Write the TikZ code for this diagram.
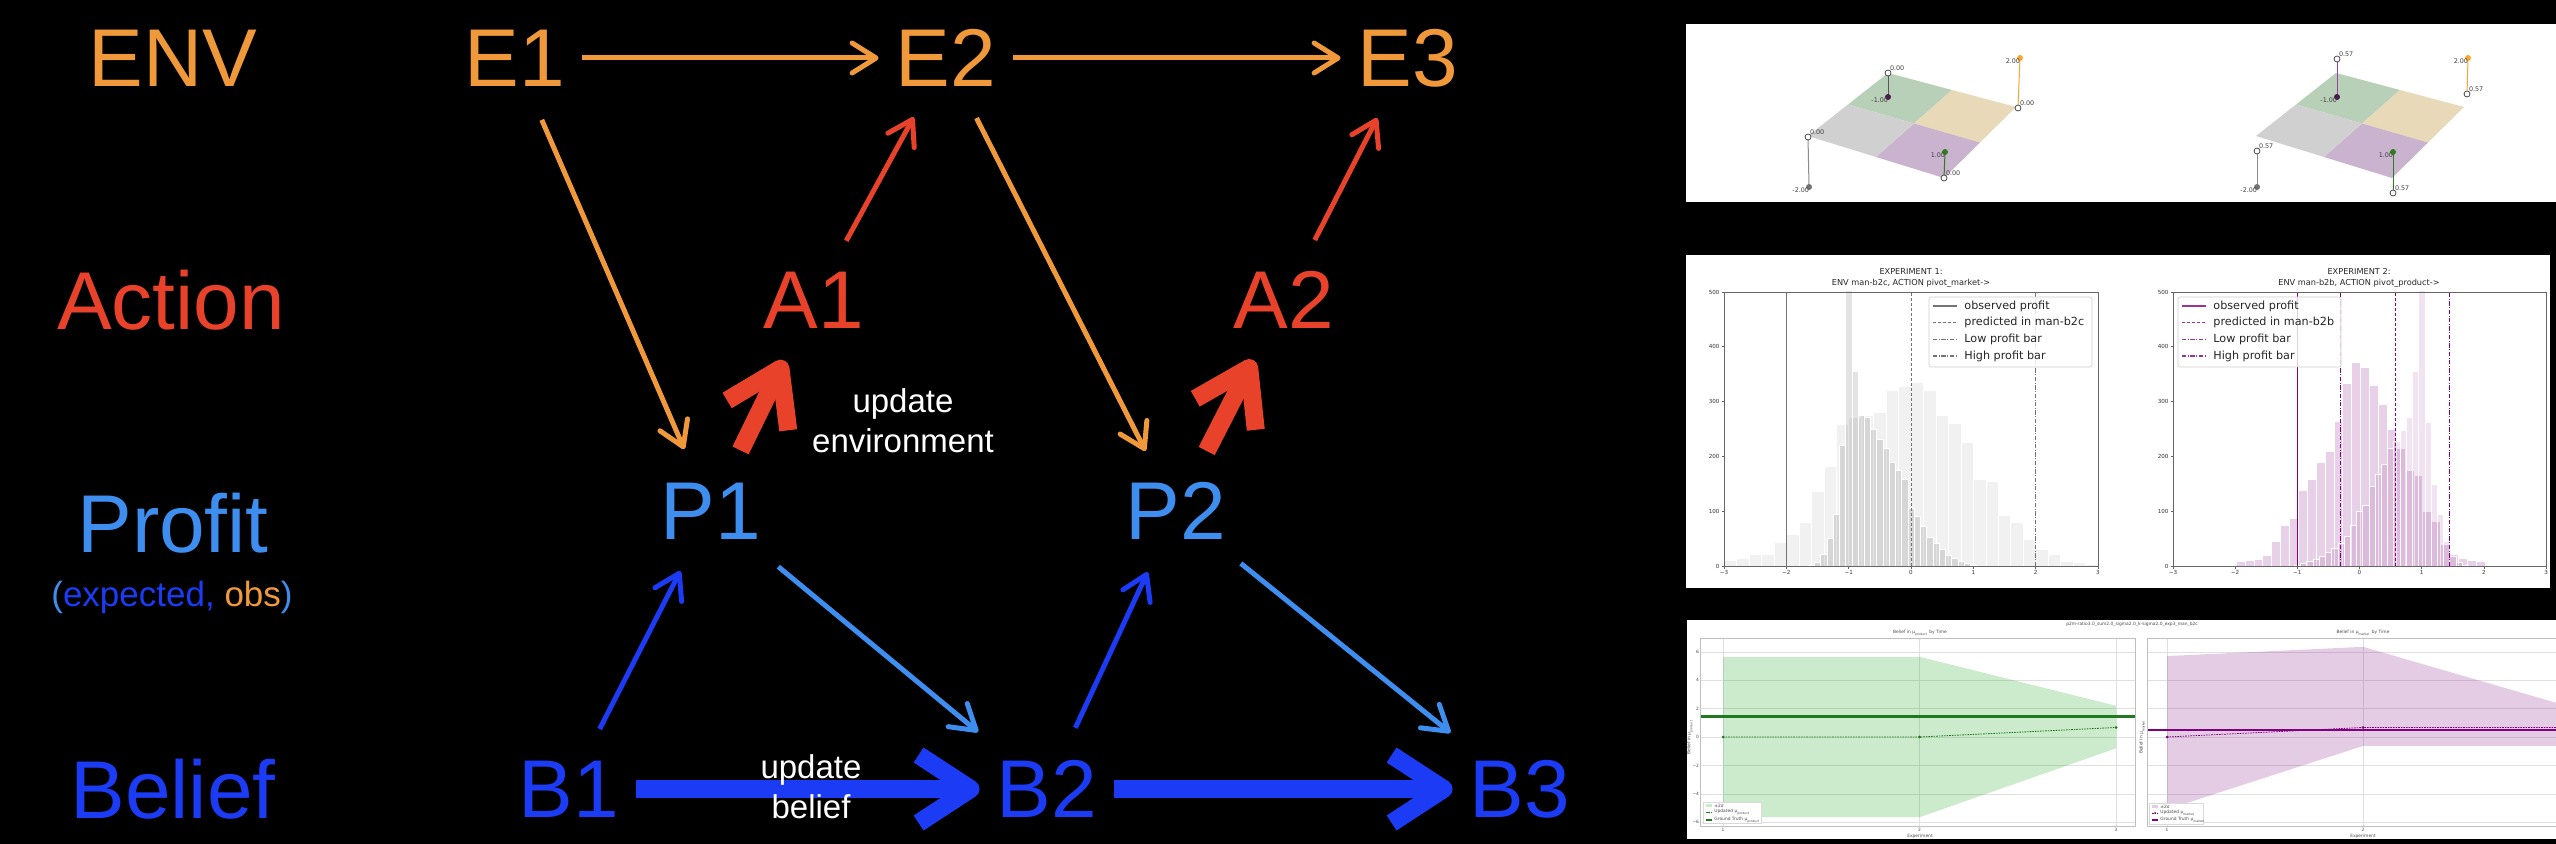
\documentclass[tikz,border=0pt]{standalone}
\usepackage{fontspec}
\setmainfont{Liberation Sans}
\newfontfamily\plotfont{DejaVu Sans}
\usepackage{tikz}
\usetikzlibrary{
    arrows.meta,
    calc
}
\definecolor{envorange}{HTML}{F0993A}
\definecolor{actred}{HTML}{E8432A}
\definecolor{profblue}{HTML}{3E8EF0}
\definecolor{belblue}{HTML}{1B3BF5}
\definecolor{plgreen}{HTML}{B8D0B8}
\definecolor{pltan}{HTML}{E8D9B8}
\definecolor{plpurple}{HTML}{C9B3CF}
\definecolor{plgray}{HTML}{D0D0D0}
\definecolor{pinorange}{HTML}{F5A72E}
\definecolor{pingreen}{HTML}{2E7D1E}
\definecolor{pinplum}{HTML}{4A1A4A}
\definecolor{mplpurple}{HTML}{800080}
\definecolor{mplgreen}{HTML}{1E7A1E}
\tikzset{var/.style={circle, inner sep=0pt, minimum size=67pt, font=\fontsize{41}{41}\selectfont}}
\tikzset{rowlbl/.style={inner sep=0pt, font=\fontsize{41}{41}\selectfont}}
\tikzset{thinarr/.style={line width=2.5pt, -{Straight Barb[length=12pt, width=15pt, round]}}}
\tikzset{fatarr/.style={line width=9pt, -{Straight Barb[length=26pt, width=34pt, line cap=butt, line join=round]}}}
\tikzset{note/.style={white, align=center, inner sep=0pt, font=\fontsize{16.5}{20}\selectfont}}
\tikzset{pinlbl/.style={inner sep=0.3pt, text=black!75, font=\plotfont\fontsize{3.2}{3.2}\selectfont}}
\tikzset{ticklbl/.style={inner sep=0.5pt, text=black!80, font=\plotfont\fontsize{2.8}{2.8}\selectfont}}
\tikzset{leglbl/.style={inner sep=0pt, anchor=west, text=black!85, font=\plotfont\fontsize{5.6}{5.6}\selectfont}}
\tikzset{ttl/.style={inner sep=0pt, text=black!85, align=center, font=\plotfont\fontsize{4.1}{5.2}\selectfont}}
\tikzset{mini/.style={inner sep=0pt, text=black!70, font=\plotfont\fontsize{2.2}{2.2}\selectfont}}
\tikzset{opendot/.style={draw=black!70, fill=white, line width=0.4pt}}
\tikzset{plotsolid/.style={solid}}
\tikzset{plotdash/.style={dash pattern=on 1.6pt off 0.9pt}}
\tikzset{plotdashdot/.style={dash pattern=on 2.2pt off 0.8pt on 0.4pt off 0.8pt}}
\tikzset{gridline/.style={black!12, line width=0.3pt}}

\begin{document}
\begin{tikzpicture}[x=0.5pt, y=-0.5pt]
    \fill[black] (0, 0) rectangle (2556, 844);
    \useasboundingbox (0, 0) rectangle (2556, 844);

    % row labels
    \node[rowlbl, envorange] (lenv) at (173, 58) {ENV};
    \node[rowlbl, actred] (lact) at (171, 300) {Action};
    \node[rowlbl, profblue] (lprof) at (173, 523) {Profit};
    \node[inner sep=0pt, profblue, font=\fontsize{17.5}{17.5}\selectfont] (lobs) at (172, 597)
        {(\textcolor{belblue}{expected,} \textcolor{envorange}{obs})};
    \node[rowlbl, belblue] (lbel) at (173, 789) {Belief};

    % the variables
    \node[var, envorange] (e1) at (515, 58) {E1};
    \node[var, envorange] (e2) at (946, 58) {E2};
    \node[var, envorange] (e3) at (1408, 58) {E3};
    \node[var, actred] (a1) at (814, 300) {A1};
    \node[var, actred] (a2) at (1284, 300) {A2};
    \node[var, profblue] (p1) at (711, 511) {P1};
    \node[var, profblue] (p2) at (1176, 511) {P2};
    \node[var, belblue] (b1) at (569, 789) {B1};
    \node[var, belblue] (b2) at (1047, 789) {B2};
    \node[var, belblue] (b3) at (1520, 789) {B3};

    \draw
    (e1) edge[thinarr, envorange] (e2)
    (e2) edge[thinarr, envorange] (e3)
    (e1) edge[thinarr, envorange] (p1)
    (e2) edge[thinarr, envorange] (p2)
    (a1) edge[thinarr, actred] (e2)
    (a2) edge[thinarr, actred] (e3)
    (b1) edge[thinarr, belblue] (p1)
    (b2) edge[thinarr, belblue] (p2)
    (p1) edge[thinarr, profblue, shorten <=10pt, shorten >=11pt] (b2)
    (p2) edge[thinarr, profblue, shorten <=8pt, shorten >=11pt] (b3);

    % fat update arrows, text goes on top
    \draw
    (p1) edge[fatarr, actred] (a1)
    (p2) edge[fatarr, actred] (a2)
    (b1) edge[fatarr, belblue] (b2)
    (b2) edge[fatarr, belblue] (b3);
    \node[note] (updenv) at (903, 421) {update\\environment};
    \node[note] (updbel) at (811, 787) {update\\belief};

    % ---- top screenshot: the two planes
    \fill[white] (1686, 24) rectangle (2556, 202);
    \foreach \dx in {0, 448} {
        \begin{scope}[shift={(\dx, 0)}]
            \fill[plgreen] (1888, 73) -- (1952, 90) -- (1914, 123.5) -- (1848, 104.5) -- cycle;
            \fill[pltan] (1952, 90) -- (2016, 107) -- (1980, 142.5) -- (1914, 123.5) -- cycle;
            \fill[plpurple] (1914, 123.5) -- (1980, 142.5) -- (1944, 178) -- (1876, 157) -- cycle;
            \fill[plgray] (1848, 104.5) -- (1914, 123.5) -- (1876, 157) -- (1808, 136) -- cycle;
        \end{scope}
    }
    \foreach \cx/\cy/\px/\py/\lc/\dc/\tc/\tp [count=\i] in {
        1888/73/1888/97/black!65/pinplum/0.00/-1.00,
        2018/108/2020/58/pinorange/pinorange/0.00/2.00,
        1808/137/1809/187/black!45/black!55/0.00/-2.00,
        1944/178/1945/152/pingreen/pingreen/0.00/1.00,
        2337/59/2337/97/mplpurple!75/pinplum/0.57/-1.00,
        2467/94/2468/58/pinorange/pinorange/0.57/2.00,
        2257/151/2257/187/black!45/black!55/0.57/-2.00,
        2393/193/2393/152/pingreen/pingreen/0.57/1.00} {
        \draw[\lc, line width=0.5pt] (\cx, \cy) -- (\px, \py);
        \fill[\dc] (\px, \py) circle (3);
        \draw[opendot] (\cx, \cy) circle (3);
        \node[pinlbl, anchor=west] (pc\i) at (\cx+1, \cy-5) {\tc};
        \node[pinlbl, anchor=east] (pd\i) at (\px+1, \py+3) {\tp};
    }

    % ---- middle screenshot: histograms
    \fill[white] (1686, 255) rectangle (2550, 588);
    \node[ttl] (hlt) at (1911, 278) {EXPERIMENT 1:\\ENV man-b2c, ACTION pivot\_market->};
    \node[ttl] (hrt) at (2359, 278) {EXPERIMENT 2:\\ENV man-b2b, ACTION pivot\_product->};
    \begin{scope}[shift={(1911, 566)}, xscale=62.33, yscale=-0.548]
        \begin{scope}
            \clip (-3, 0) rectangle (3, 500);
            \foreach \h [count=\i from 0] in {11, 14, 22, 22, 43, 58, 80, 137, 182, 259, 272, 275, 280, 320, 328,
                335, 320, 275, 260, 226, 158, 155, 93, 80, 48, 30, 22, 8, 6, 3}
                \fill[black, fill opacity=0.055, draw=white, line width=0.25pt] ({-3+0.2*\i}, 0) rectangle ++(0.2, \h);
            \foreach \h [count=\i from 0] in {2, 6, 22, 50, 95, 220, 520, 355, 275, 272, 250, 232, 215, 190, 175,
                158, 105, 90, 72, 52, 42, 30, 20, 15, 8, 5, 2}
                \fill[black, fill opacity=0.11, draw=white, line width=0.25pt] ({-1.65+0.1*\i}, 0) rectangle ++(0.1, \h);
            \draw[black!55, line width=0.4pt] (-2, 0) -- (-2, 500);
            \draw[black!55, line width=0.4pt, plotdash] (0, 0) -- (0, 500);
            \draw[black!55, line width=0.4pt, plotdashdot] (2, 0) -- (2, 500);
        \end{scope}
        \draw[black!60, line width=0.4pt] (-3, 0) rectangle (3, 500);
        \foreach \k/\t [count=\i] in {-3/−3, -2/−2, -1/−1, 0/0, 1/1, 2/2, 3/3} {
            \draw[black!60, line width=0.3pt] (\k, 0) -- +(0, -5);
            \node[ticklbl, anchor=north] (hlx\i) at (\k, -6) {\t};
        }
        \foreach \v [count=\i] in {0, 100, ..., 500} {
            \draw[black!60, line width=0.3pt] (-3, \v) -- +(-0.04, 0);
            \node[ticklbl, anchor=east] (hly\i) at (-3.05, \v) {\v};
        }
    \end{scope}
    \begin{scope}[shift={(2359.5, 566)}, xscale=62.17, yscale=-0.548]
        \begin{scope}
            \clip (-3, 0) rectangle (3, 500);
            \foreach \h [count=\i from 0] in {2, 8, 10, 12, 20, 45, 75, 88, 138, 158, 190, 210, 265, 333, 372,
                362, 330, 295, 250, 215, 175, 165, 100, 82, 40, 22, 15, 10, 8, 2}
                \fill[mplpurple, fill opacity=0.18, draw=white, line width=0.25pt] ({-2.13+0.143*\i}, 0) rectangle ++(0.143, \h);
            \foreach \h [count=\i from 0] in {2, 5, 8, 12, 18, 25, 32, 42, 55, 75, 100, 110, 145, 168, 185,
                215, 228, 248, 272, 355, 520, 262, 150, 95, 45, 18, 6, 2}
                \fill[mplpurple, fill opacity=0.11, draw=white, line width=0.25pt] ({-1.05+0.1*\i}, 0) rectangle ++(0.1, \h);
            \draw[mplpurple, line width=0.5pt] (-1, 0) -- (-1, 500);
            \draw[mplpurple, line width=0.5pt, plotdashdot] (-0.3, 0) -- (-0.3, 500);
            \draw[mplpurple, line width=0.5pt, plotdash] (0.58, 0) -- (0.58, 500);
            \draw[mplpurple, line width=0.5pt, plotdashdot] (1.45, 0) -- (1.45, 500);
        \end{scope}
        \draw[black!60, line width=0.4pt] (-3, 0) rectangle (3, 500);
        \foreach \k/\t [count=\i] in {-3/−3, -2/−2, -1/−1, 0/0, 1/1, 2/2, 3/3} {
            \draw[black!60, line width=0.3pt] (\k, 0) -- +(0, -5);
            \node[ticklbl, anchor=north] (hrx\i) at (\k, -6) {\t};
        }
        \foreach \v [count=\i] in {0, 100, ..., 500} {
            \draw[black!60, line width=0.3pt] (-3, \v) -- +(-0.04, 0);
            \node[ticklbl, anchor=east] (hry\i) at (-3.05, \v) {\v};
        }
    \end{scope}
    % legends
    \draw[black!20, fill=white, fill opacity=0.8, line width=0.3pt, rounded corners=1pt] (1929, 297) rectangle (2092, 367);
    \draw[black!20, fill=white, fill opacity=0.8, line width=0.3pt, rounded corners=1pt] (2178, 297) rectangle (2341, 367);
    \foreach \t/\s [count=\i] in {observed profit/plotsolid, predicted in man-b2c/plotdash,
        Low profit bar/plotdashdot, High profit bar/plotdashdot} {
        \draw[black!55, line width=0.6pt, \s] (1933, {306+16.7*(\i-1)}) -- (1957, {306+16.7*(\i-1)});
        \node[leglbl] (hll\i) at (1964, {306+16.7*(\i-1)}) {\t};
    }
    \foreach \t/\s [count=\i] in {observed profit/plotsolid, predicted in man-b2b/plotdash,
        Low profit bar/plotdashdot, High profit bar/plotdashdot} {
        \draw[mplpurple!80, line width=0.6pt, \s] (2182, {306+16.7*(\i-1)}) -- (2206, {306+16.7*(\i-1)});
        \node[leglbl] (hrl\i) at (2213, {306+16.7*(\i-1)}) {\t};
    }

    % ---- bottom screenshot: belief over time
    \fill[white] (1687, 620) rectangle (2556, 839);
    \node[mini] (bsup) at (2132, 624) {p2m-ratio3.0\_sum2.0\_sigma2.0\_k-sigma2.0\_exp3\_man\_b2c};
    \node[mini] (blt) at (1920, 633) {Belief in μ\textsubscript{product} by Time};
    \node[mini] (brt) at (2363, 633) {Belief in μ\textsubscript{market} by Time};
    \node[mini] (blxl) at (1920, 836) {Experiment};
    \node[mini] (brxl) at (2363, 836) {Experiment};
    \node[mini, rotate=90] (blyl) at (1690, 737) {Belief in μ\textsubscript{product}};
    \node[mini, rotate=90] (bryl) at (2142, 737) {Belief in μ\textsubscript{market}};
    \begin{scope}[shift={(1526.5, 737)}, xscale=196.5, yscale=-14.2]
        \begin{scope}
            \clip (0.883, -6.27) rectangle (3.097, 6.97);
            \foreach \v in {-6, -4, ..., 6}
                \draw[gridline] (0.883, \v) -- (3.097, \v);
            \foreach \k in {1, 2, 3}
                \draw[gridline] (\k, -6.27) -- (\k, 6.97);
            \fill[green!60!black, fill opacity=0.2] (1, -5.65) -- (1, 5.65) -- (2, 5.65) -- (3, 2.2) -- (3, -0.8) -- (2, -5.65) -- cycle;
            \draw[mplgreen, line width=1.4pt] (0.883, 1.45) -- (3.097, 1.45);
            \draw[mplgreen, line width=0.4pt, dash pattern=on 0.8pt off 0.5pt] (1, 0) -- (2, 0) -- (3, 0.67);
        \end{scope}
        \draw[black!25, line width=0.4pt] (0.883, -6.27) rectangle (3.097, 6.97);
        \foreach \v/\t [count=\i] in {6/6, 4/4, 2/2, 0/0, -2/−2, -4/−4, -6/−6}
            \node[mini, anchor=east] (bly\i) at (0.88, \v) {\t};
        \foreach \k [count=\i] in {1, 2, 3}
            \node[mini] (blx\i) at (\k, -6.55) {\k};
    \end{scope}
    \begin{scope}[shift={(1971, 737)}, xscale=196, yscale=-14.2]
        \begin{scope}
            \clip (0.898, -6.27) rectangle (2.985, 6.97);
            \foreach \v in {-6, -4, ..., 6}
                \draw[gridline] (0.898, \v) -- (2.985, \v);
            \foreach \k in {1, 2}
                \draw[gridline] (\k, -6.27) -- (\k, 6.97);
            \fill[mplpurple, fill opacity=0.2] (1, -5.1) -- (1, 5.7) -- (2, 6.35) -- (3, 2.35) -- (3, -0.63) -- (2, -0.63) -- cycle;
            \draw[mplpurple, line width=1.4pt] (0.898, 0.5) -- (2.985, 0.5);
            \draw[mplpurple, line width=0.4pt, dash pattern=on 0.8pt off 0.5pt] (1, 0) -- (2, 0.67) -- (3, 0.67);
        \end{scope}
        \draw[black!25, line width=0.4pt] (0.898, -6.27) rectangle (3.2, 6.97);
        \foreach \k [count=\i] in {1, 2}
            \node[mini] (brx\i) at (\k, -6.55) {\k};
    \end{scope}
    % markers of the updated belief
    \foreach \mx/\my in {1723/737, 1919.5/737, 2116/727.5}
        \fill[mplgreen] (\mx, \my) circle (1.5);
    \foreach \mx/\my in {2167/737, 2363/727.5}
        \fill[mplpurple] (\mx, \my) circle (1.5);
    % small legends
    \draw[black!15, fill=white, line width=0.3pt] (1703, 802) rectangle (1761, 823);
    \fill[green!60!black, fill opacity=0.2] (1706, 804) rectangle (1712, 807);
    \draw[mplgreen, line width=0.4pt, dash pattern=on 0.8pt off 0.5pt] (1706, 812.5) -- (1712, 812.5);
    \fill[mplgreen] (1709, 812.5) circle (1);
    \draw[mplgreen, line width=1.2pt] (1706, 820) -- (1712, 820);
    \node[mini, anchor=west] (bll1) at (1714, 805.5) {±2σ};
    \node[mini, anchor=west] (bll2) at (1714, 812.5) {Updated μ\textsubscript{product}};
    \node[mini, anchor=west] (bll3) at (1714, 820) {Ground Truth μ\textsubscript{product}};
    \draw[black!15, fill=white, line width=0.3pt] (2149, 803) rectangle (2203, 824);
    \fill[mplpurple, fill opacity=0.2] (2152, 805) rectangle (2158, 808);
    \draw[mplpurple, line width=0.4pt, dash pattern=on 0.8pt off 0.5pt] (2152, 813) -- (2158, 813);
    \fill[mplpurple] (2155, 813) circle (1);
    \draw[mplpurple, line width=1.2pt] (2152, 820) -- (2158, 820);
    \node[mini, anchor=west] (brl1) at (2160, 806.5) {±2σ};
    \node[mini, anchor=west] (brl2) at (2160, 813) {Updated μ\textsubscript{market}};
    \node[mini, anchor=west] (brl3) at (2160, 820) {Ground Truth μ\textsubscript{market}};
\end{tikzpicture}
\end{document}
